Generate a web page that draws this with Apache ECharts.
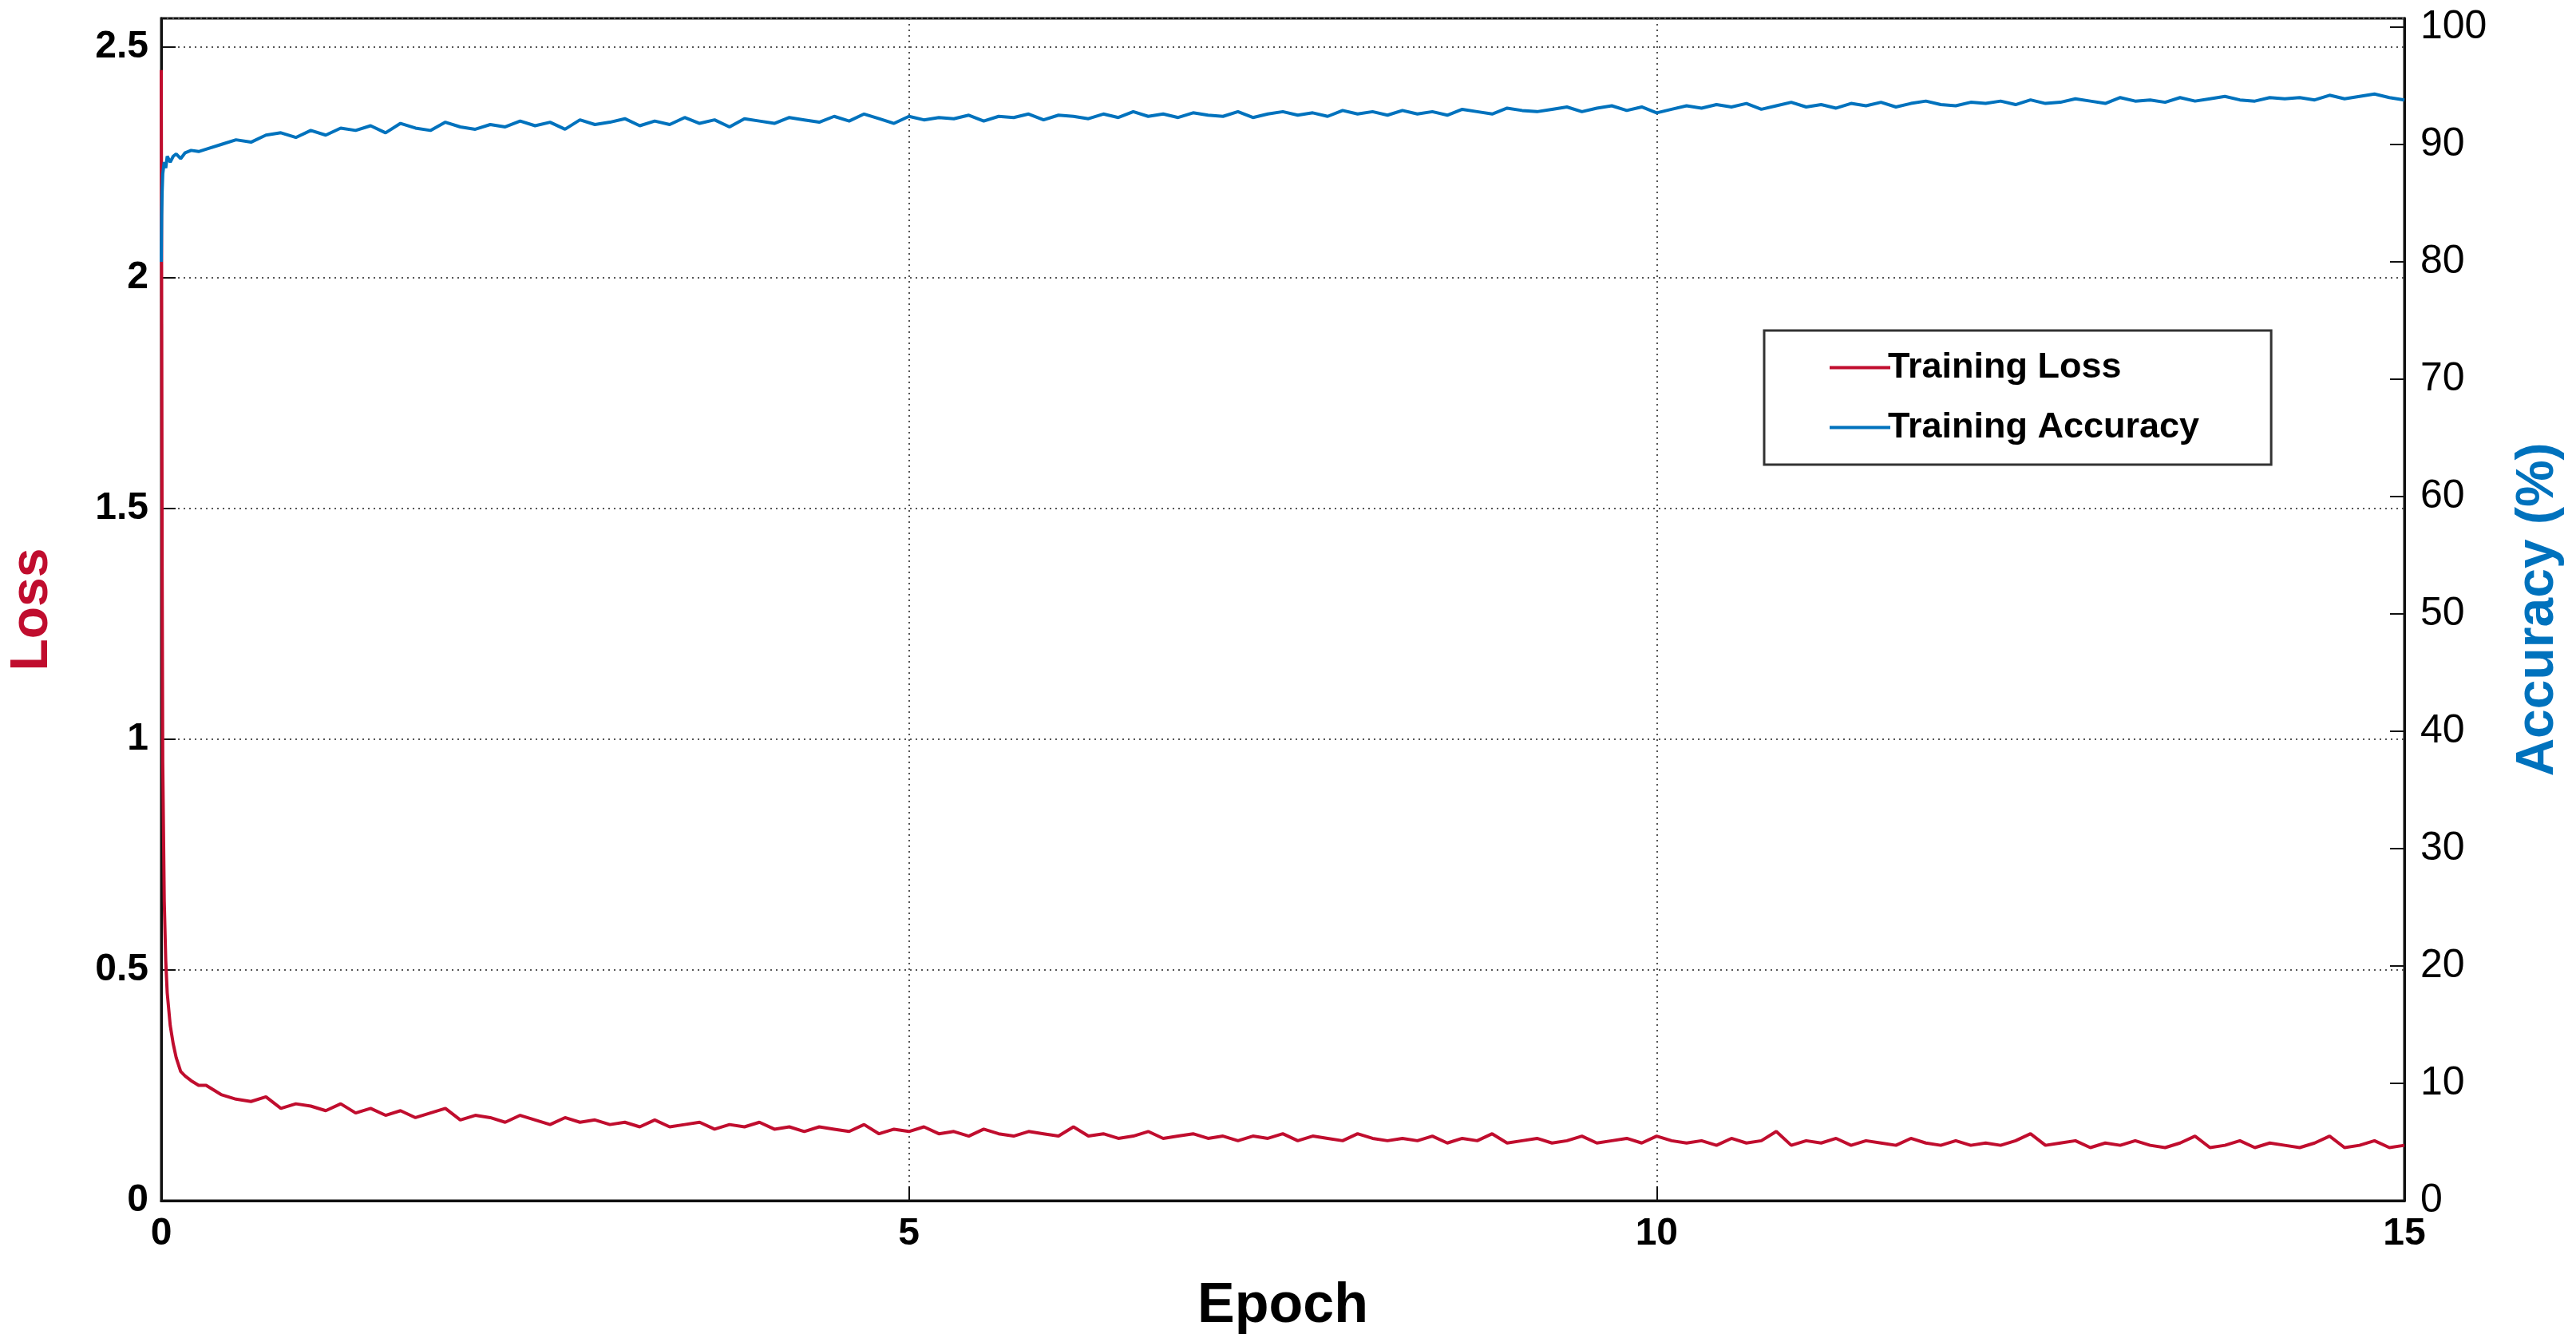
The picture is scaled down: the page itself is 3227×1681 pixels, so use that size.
<!DOCTYPE html>
<html><head><meta charset="utf-8">
<script src="https://cdn.jsdelivr.net/npm/echarts@6/dist/echarts.min.js"></script>
<style>html,body{margin:0;padding:0;background:#fff}#c{width:3227px;height:1681px}</style>
</head><body><div id="c"></div>
<script>
const earlyEpochs = [0,0.003,0.006,0.01,0.015,0.02,0.03,0.04,0.06,0.08,0.1,0.13,0.16,0.2,0.25];
const earlyLoss = [2.45,1.9,1.37,0.95,0.8,0.65,0.52,0.45,0.38,0.34,0.31,0.28,0.27,0.26,0.25];
const earlyAcc = [80,84,86,87.5,88,88.5,88,89,88.5,89,89.2,88.8,89.3,89.5,89.4];
const mainStart = 0.3, mainStep = 0.1;
const lossValues = [
.25,.23,.22,.215,.225,.2,.21,.205,.195,.21,
.19,.2,.185,.195,.18,.19,.2,.175,.185,.18,
.17,.185,.175,.165,.18,.17,.175,.165,.17,.16,
.175,.16,.165,.17,.155,.165,.16,.17,.155,.16,
.15,.16,.155,.15,.165,.145,.155,.15,.16,.145,
.15,.14,.155,.145,.14,.15,.145,.14,.16,.14,
.145,.135,.14,.15,.135,.14,.145,.135,.14,.13,
.14,.135,.145,.13,.14,.135,.13,.145,.135,.13,
.135,.13,.14,.125,.135,.13,.145,.125,.13,.135,
.125,.13,.14,.125,.13,.135,.125,.14,.13,.125,
.13,.12,.135,.125,.13,.15,.12,.13,.125,.135,
.12,.13,.125,.12,.135,.125,.12,.13,.12,.125,
.12,.13,.145,.12,.125,.13,.115,.125,.12,.13,
.12,.115,.125,.14,.115,.12,.13,.115,.125,.12,
.115,.125,.14,.115,.12,.13,.115,.12];
const accValues = [
89.6,90,90.4,90.2,90.8,91,90.6,91.2,90.8,91.4,
91.2,91.6,91,91.8,91.4,91.2,91.9,91.5,91.3,91.7,
91.5,92,91.6,91.9,91.3,92.1,91.7,91.9,92.2,91.6,
92,91.7,92.3,91.8,92.1,91.5,92.2,92,91.8,92.3,
92.1,91.9,92.4,92,92.6,92.2,91.8,92.4,92.1,92.3,
92.2,92.5,92,92.4,92.3,92.6,92.1,92.5,92.4,92.2,
92.6,92.3,92.8,92.4,92.6,92.3,92.7,92.5,92.4,92.8,
92.3,92.6,92.8,92.5,92.7,92.4,92.9,92.6,92.8,92.5,
92.9,92.6,92.8,92.5,93,92.8,92.6,93.1,92.9,92.8,
93,93.2,92.8,93.1,93.3,92.9,93.2,92.7,93,93.3,
93.1,93.4,93.2,93.5,93,93.3,93.6,93.2,93.4,93.1,
93.5,93.3,93.6,93.2,93.5,93.7,93.4,93.3,93.6,93.5,
93.7,93.4,93.8,93.5,93.6,93.9,93.7,93.5,94,93.7,
93.8,93.6,94,93.7,93.9,94.1,93.8,93.7,94,93.9,
94,93.8,94.2,93.9,94.1,94.3,94,93.8];
const xTicks = [0,5,10,15];

const mainEpochs = lossValues.map((_, i) => +(mainStart + i*mainStep).toFixed(3));
const lossData = earlyEpochs.map((e,i)=>[e,earlyLoss[i]]).concat(mainEpochs.map((e,i)=>[e,lossValues[i]]));
const accData = earlyEpochs.map((e,i)=>[e,earlyAcc[i]]).concat(mainEpochs.map((e,i)=>[e,accValues[i]]));

const RED='#c00d2e', BLUE='#0072bd', FONT='Liberation Sans';
const grid = {show:true,left:200,right:215,top:23,bottom:177,borderColor:'#111',borderWidth:3,backgroundColor:'#fff'};
const split = {show:true,lineStyle:{color:'#555',type:[2,5],width:2}};
const chart = echarts.init(document.getElementById('c'));
chart.setOption({
  animation:false,
  grid,
  legend:{orient:'vertical',left:2210,top:414,
    padding:[24,90,24,82],itemGap:30,itemWidth:76,itemHeight:4,
    borderColor:'#333',borderWidth:3,backgroundColor:'#fff',
    textStyle:{fontFamily:FONT,fontWeight:'bold',fontSize:45,color:'#000',padding:[0,0,0,-8]},
    data:[{name:'Training Loss',icon:'rect'},{name:'Training Accuracy',icon:'rect'}]},
  xAxis:{type:'value',min:0,max:15,interval:5,
    name:'Epoch',nameLocation:'middle',nameGap:98,
    nameTextStyle:{fontFamily:FONT,fontWeight:'bold',fontSize:70,color:'#000'},
    axisLine:{lineStyle:{color:'#111',width:3}},
    axisTick:{inside:true,length:18,lineStyle:{width:2,color:'#111'}},
    axisLabel:{fontFamily:FONT,fontWeight:'bold',fontSize:48,color:'#000',margin:18,
      formatter:v=>xTicks.includes(v)?String(v):''},
    splitLine:split},
  yAxis:[
    {type:'value',min:0,max:2.562,interval:0.5,position:'left',
      name:'Loss',nameLocation:'middle',nameGap:128,
      nameTextStyle:{fontFamily:FONT,fontWeight:'bold',fontSize:66,color:RED},
      axisLine:{show:true,lineStyle:{color:'#111',width:3}},
      axisTick:{show:true,inside:true,length:18,lineStyle:{width:2,color:'#111'}},
      axisLabel:{fontFamily:FONT,fontWeight:'bold',fontSize:48,color:'#000',margin:16,showMaxLabel:false},
      splitLine:split},
    {type:'value',min:0,max:100.75,interval:10,position:'right',
      name:'Accuracy (%)',nameLocation:'middle',nameGap:135,
      nameTextStyle:{fontFamily:FONT,fontWeight:'bold',fontSize:66,color:BLUE},
      axisLine:{show:true,lineStyle:{color:'#111',width:3}},
      axisTick:{show:true,inside:true,length:18,lineStyle:{width:2,color:'#111'}},
      axisLabel:{fontFamily:FONT,fontSize:50,color:'#000',margin:20,showMaxLabel:false},
      splitLine:{show:false}}
  ],
  series:[
    {name:'Training Loss',type:'line',yAxisIndex:0,data:lossData,showSymbol:false,symbol:'none',
      lineStyle:{color:RED,width:4},itemStyle:{color:RED}},
    {name:'Training Accuracy',type:'line',yAxisIndex:1,data:accData,showSymbol:false,symbol:'none',
      lineStyle:{color:BLUE,width:4},itemStyle:{color:BLUE}}
  ]
});
</script></body></html>
